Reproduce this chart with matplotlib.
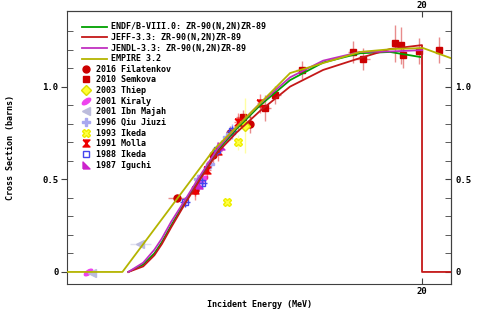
import matplotlib
matplotlib.use("Agg")
import matplotlib.pyplot as plt
from matplotlib.markers import MarkerStyle
from matplotlib.transforms import Affine2D

# evaluated cross sections (MeV, barns)
endf_e = [12.1, 12.5, 12.8, 13.0, 13.25, 13.63, 14.0, 14.5, 15.0, 15.65, 16.45, 17.34, 18.33, 19.14, 19.95]
endf_y = [0.0, 0.04, 0.10, 0.16, 0.25, 0.38, 0.50, 0.655, 0.77, 0.90, 1.035, 1.13, 1.18, 1.187, 1.16]
jeff_e = [12.1, 12.5, 12.8, 13.0, 13.25, 13.63, 14.0, 14.5, 15.0, 15.65, 16.45, 17.34, 18.33, 19.14, 20.0, 20.0, 20.8]
jeff_y = [0.0, 0.03, 0.09, 0.15, 0.24, 0.37, 0.49, 0.645, 0.75, 0.87, 1.0, 1.09, 1.154, 1.203, 1.224, 0.0, 0.0]
jendl_e = [12.1, 12.5, 12.8, 13.0, 13.25, 13.63, 14.0, 14.5, 15.0, 15.65, 16.45, 17.34, 18.33, 19.2, 20.0]
jendl_y = [0.0, 0.05, 0.12, 0.18, 0.27, 0.39, 0.51, 0.665, 0.78, 0.91, 1.05, 1.14, 1.187, 1.19, 1.197]
empire_e = [10.4, 11.94, 14.4, 15.1, 16.45, 17.34, 18.33, 19.22, 20.03, 20.8]
empire_y = [0.0, 0.0, 0.66, 0.80, 1.073, 1.127, 1.187, 1.203, 1.208, 1.152]

# experimental data: energy, xs, dE, dxs
filatenkov = ([13.41, 13.9, 14.38, 14.84, 15.38], [0.40, 0.44, 0.63, 0.75, 0.80],
              [0.25, 0.05, 0.05, 0.05, 0.05], [0.02, 0.03, 0.04, 0.04, 0.05])
semkova = ([15.19, 15.78, 16.05, 16.77, 18.15, 18.41, 19.27, 19.44, 19.49, 19.92, 20.46],
           [0.836, 0.885, 0.955, 1.09, 1.187, 1.149, 1.235, 1.224, 1.17, 1.19, 1.197],
           [0.2, 0.15, 0.15, 0.15, 0.15, 0.2, 0.05, 0.05, 0.05, 0.05, 0.05],
           [0.04, 0.07, 0.05, 0.05, 0.06, 0.06, 0.1, 0.1, 0.07, 0.07, 0.07])
thiep = ([15.24], [0.79], [0.02], [0.15])
kiraly = ([11.02, 14.1], [0.0, 0.50], [0.05, 0.05], [0.01, 0.03])
ibn_majah = ([11.13, 12.42], [-0.005, 0.15], [0.05, 0.28], [0.01, 0.01])
qiu = ([13.98, 14.3, 14.76], [0.50, 0.58, 0.73], [0.05, 0.05, 0.05], [0.03, 0.03, 0.03])
ikeda93 = ([14.76, 15.05], [0.378, 0.70], [0.05, 0.05], [0.02, 0.04])
molla = ([13.9, 14.22, 14.52, 15.05, 15.65], [0.44, 0.55, 0.65, 0.81, 0.91],
         [0.1, 0.1, 0.1, 0.1, 0.1], [0.05, 0.05, 0.05, 0.05, 0.05])
ikeda88 = ([13.63, 14.09, 14.49, 14.9], [0.378, 0.48, 0.66, 0.76], [0.05, 0.05, 0.05, 0.05], [0.02, 0.03, 0.03, 0.04])
iguchi = ([14.0, 14.6], [0.47, 0.68], [0.05, 0.05], [0.03, 0.03])

font = {"family": "DejaVu Sans Mono", "weight": "bold", "size": 6}
plt.rcParams["font.family"] = "DejaVu Sans Mono"
plt.rcParams["font.weight"] = "bold"
plt.rcParams["font.size"] = 6

fig = plt.figure(figsize=(4.8, 3.09), dpi=100)
ax = fig.add_axes([0.1396, 0.0809, 0.80, 0.8835])

ellipse = MarkerStyle("o", transform=Affine2D().scale(1, 0.45).rotate_deg(35))
bowtie = [(-1, 1), (1, 1), (-1, -1), (1, -1), (-1, 1)]
wedge = [(-1, -1), (1, -1), (-1, 1), (-1, -1)]

exp_sets = [
    ("2016 Filatenkov", filatenkov, dict(marker="o", color="#cc0000", ms=5)),
    ("2010 Semkova", semkova, dict(marker="s", color="#cc0000", ms=5)),
    ("2003 Thiep", thiep, dict(marker="D", color="#ffff33", mec="#dddd00", ms=5)),
    ("2001 Kiraly", kiraly, dict(marker=ellipse, color="#ee44ee", ms=7)),
    ("2001 Ibn Majah", ibn_majah, dict(marker="<", color="#bcbcdc", ms=6)),
    ("1996 Qiu Jiuzi", qiu, dict(marker="P", color="#a8a8f0", ms=6)),
    ("1993 Ikeda", ikeda93, dict(marker="X", color="#ffff44", mec="#eeee00", ms=6)),
    ("1991 Molla", molla, dict(marker=bowtie, color="#ee0000", ms=5)),
    ("1988 Ikeda", ikeda88, dict(marker="s", color="#4444ee", mfc="none", ms=5)),
    ("1987 Iguchi", iguchi, dict(marker=wedge, color="#cc22cc", ms=5)),
]

handles = []
for label, (e, y, de, dy), style in exp_sets:
    ax.errorbar(e, y, xerr=de, yerr=dy, fmt="none", ecolor=style["color"], alpha=0.45, elinewidth=1, zorder=2)
    h, = ax.plot(e, y, linestyle="none", zorder=2, **style)
    if label == "1988 Ikeda":
        ax.plot(e, y, linestyle="none", marker="+", color="#4444ee", ms=7, zorder=2)
    handles.append(h)

l1, = ax.plot(endf_e, endf_y, color="#00a000", lw=1.3, zorder=3)
l2, = ax.plot(jeff_e, jeff_y, color="#c41818", lw=1.3, zorder=3)
l3, = ax.plot(jendl_e, jendl_y, color="#c030c0", lw=1.3, zorder=3)
l4, = ax.plot(empire_e, empire_y, color="#b4b400", lw=1.3, zorder=3)

leg1 = ax.legend([l1, l2, l3, l4],
                 ["ENDF/B-VIII.0: ZR-90(N,2N)ZR-89", "JEFF-3.3: ZR-90(N,2N)ZR-89",
                  "JENDL-3.3: ZR-90(N,2N)ZR-89", "EMPIRE 3.2"],
                 loc="upper left", bbox_to_anchor=(0.039, 0.958), frameon=False,
                 handlelength=3.0, handletextpad=0.5, labelspacing=0.2,
                 borderpad=0, borderaxespad=0, prop=font)
ax.add_artist(leg1)
ax.legend(handles, [s[0] for s in exp_sets], loc="upper left", bbox_to_anchor=(0.039, 0.804),
          frameon=False, handlelength=1.0, handletextpad=0.7, labelspacing=0.2,
          borderpad=0, borderaxespad=0, prop=font)

ax.set_xlim(10.45, 20.78)
ax.set_ylim(-0.065, 1.408)
ax.set_xticks([20])
ax.set_xticklabels(["20"])
ax.set_yticks([0, 0.5, 1.0])
ax.set_yticklabels(["0", "0.5", "1.0"])
ax.set_yticks([v / 10 for v in range(0, 14)], minor=True)
ax.tick_params(axis="y", which="major", direction="out", length=4, color="#404040", labelsize=6.5, pad=2)
ax.tick_params(axis="y", which="minor", direction="in", length=4, color="#404040")
ax.tick_params(axis="x", which="major", direction="in", length=4, color="#404040", labelsize=6.5, pad=2)

secy = ax.secondary_yaxis("right")
secy.set_yticks([0, 0.5, 1.0])
secy.set_yticklabels(["0", "0.5", "1.0"])
secy.set_yticks([v / 10 for v in range(0, 14)], minor=True)
secy.tick_params(which="both", direction="in", length=4, color="#404040", labelsize=6.5, pad=3)
secx = ax.secondary_xaxis("top")
secx.set_xticks([20])
secx.set_xticklabels(["20"])
secx.tick_params(direction="in", length=4, color="#404040", labelsize=6.5, pad=0.5)

for sp in list(ax.spines.values()) + list(secy.spines.values()) + list(secx.spines.values()):
    sp.set_color("#404040")

ax.set_xlabel("Incident Energy (MeV)", labelpad=3, **font)
ax.set_ylabel("Cross Section (barns)", labelpad=20, **font)

fig.savefig("out.png", dpi=100)
